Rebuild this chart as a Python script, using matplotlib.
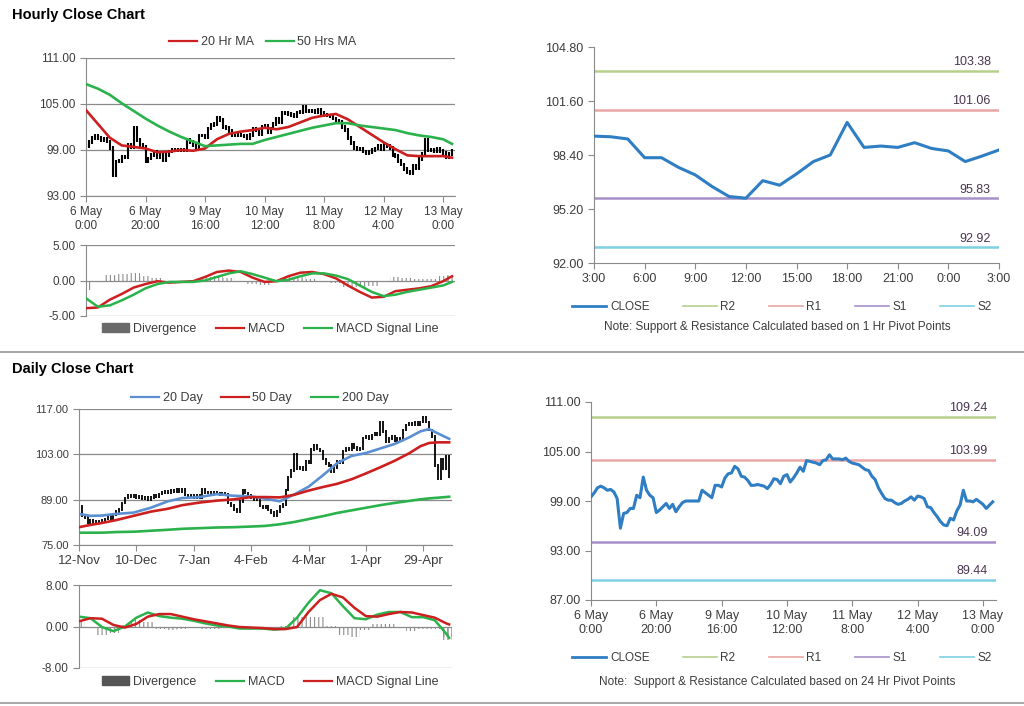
import numpy as np
import matplotlib.pyplot as plt
from matplotlib.lines import Line2D
from matplotlib.patches import Patch

plt.rcParams['font.family'] = ['Liberation Sans', 'DejaVu Sans']
plt.rcParams['hatch.linewidth'] = 0.8

# ---- hourly data (6 May 0:00 -> 13 May ~3:00), one value per hour bar
hourly_close = [
    99.5, 100.0, 100.6, 100.8, 100.6, 100.3, 100.4, 100.1, 99.3, 95.7,
    97.5, 97.6, 98.1, 98.1, 99.7, 99.4, 101.9, 100.3, 99.7, 99.4,
    97.6, 97.9, 98.3, 98.7, 98.1, 98.6, 97.7, 98.3, 98.8, 99.0,
    99.0, 99.0, 99.0, 99.0, 100.3, 100.0, 99.7, 99.4, 100.9, 100.9,
    100.7, 101.8, 102.3, 102.4, 103.2, 102.9, 102.0, 101.9, 101.5, 100.9,
    100.9, 101.0, 100.9, 100.8, 100.5, 101.0, 101.7, 101.6, 101.1, 102.0,
    102.2, 101.3, 101.8, 102.4, 103.1, 102.6, 103.9, 103.8, 103.7, 103.6,
    103.4, 103.9, 104.0, 104.6, 104.1, 104.1, 104.1, 104.0, 104.2, 103.8,
    103.6, 103.5, 103.4, 103.1, 102.8, 102.7, 102.0, 101.6, 100.6, 99.9,
    99.3, 99.1, 99.1, 98.8, 98.6, 98.7, 99.0, 99.2, 99.5, 99.1,
    99.6, 99.5, 99.3, 98.3, 98.2, 97.6, 97.1, 96.5, 96.1, 96.0,
    96.9, 96.7, 97.8, 98.5, 100.3, 99.0, 99.0, 98.9, 99.2, 98.9,
    98.6, 98.1, 98.5, 98.9,
]
hourly_ticklabels = ['6 May\n0:00', '6 May\n20:00', '9 May\n16:00', '10 May\n12:00',
                     '11 May\n8:00', '12 May\n4:00', '13 May\n0:00']

hourly_idx = list(range(0, 124, 4)) + [123]
ma20h = [104.2, 102.4, 100.6, 99.6, 99.4, 99.2, 98.7, 98.8, 99.0, 98.9,
         99.2, 100.4, 101.1, 101.4, 101.6, 101.9, 101.7, 102.0, 102.6, 103.2,
         103.5, 103.7, 103.0, 102.0, 101.0, 100.0, 99.1, 98.3, 98.2, 98.2,
         98.2, 98.0]
ma50h = [107.6, 107.0, 106.2, 105.1, 104.1, 103.1, 102.2, 101.4, 100.7, 100.1,
         99.5, 99.6, 99.7, 99.8, 99.8, 100.3, 100.7, 101.1, 101.5, 101.9,
         102.2, 102.5, 102.5, 102.2, 102.0, 101.8, 101.6, 101.2, 100.9, 100.7,
         100.4, 99.8]
macd_h = [-3.9, -3.8, -2.7, -1.9, -1.0, -0.5, -0.1, -0.3, -0.2, -0.1,
          0.5, 1.2, 1.4, 1.2, 0.4, -0.2, -0.1, 0.6, 1.1, 1.2,
          0.9, 0.3, -0.7, -1.6, -2.4, -2.3, -1.5, -1.3, -1.1, -0.8,
          -0.1, 0.6]
signal_h = [-2.5, -3.7, -3.5, -2.8, -2.0, -1.1, -0.5, -0.2, -0.2, -0.2,
            0.0, 0.5, 1.0, 1.3, 0.9, 0.4, -0.1, 0.1, 0.6, 1.0,
            1.0, 0.7, 0.2, -0.7, -1.6, -2.2, -2.0, -1.6, -1.3, -1.0,
            -0.7, -0.2]

# ---- last 24 hours close and pivots
pivot1_close = [99.52, 99.48, 99.35, 98.24, 98.24, 97.67, 97.22, 96.53, 95.94, 95.84,
                96.88, 96.61, 97.28, 98.01, 98.40, 100.33, 98.85, 98.93, 98.85, 99.13,
                98.79, 98.64, 98.01, 98.34, 98.70]
pivot1_ticklabels = ['3:00', '6:00', '9:00', '12:00', '15:00', '18:00', '21:00', '0:00', '3:00']
levels_1h = {'R2': 103.38, 'R1': 101.06, 'S1': 95.83, 'S2': 92.92}
levels_24h = {'R2': 109.24, 'R1': 103.99, 'S1': 94.09, 'S2': 89.44}

# ---- daily data (12-Nov -> mid May), one value per trading day
daily_close = [
    87.0, 84.0, 83.5, 82.0, 82.5, 81.5, 82.3, 81.8, 82.5, 83.0,
    83.8, 83.2, 84.5, 85.3, 86.0, 88.0, 89.5, 90.5, 89.8, 90.2,
    89.5, 89.9, 89.2, 89.8, 89.0, 89.6, 90.4, 90.0, 90.8, 91.2,
    91.6, 91.0, 92.0, 91.4, 92.2, 91.5, 92.3, 90.5, 89.8, 90.5,
    89.5, 90.2, 89.6, 92.3, 91.0, 91.4, 90.8, 91.3, 91.0, 90.5,
    91.0, 90.8, 88.0, 87.2, 86.0, 85.3, 88.5, 91.8, 91.0, 90.3,
    89.6, 89.0, 89.5, 87.0, 86.4, 86.8, 85.8, 85.0, 84.2, 85.3,
    86.8, 87.5, 92.0, 96.0, 98.0, 103.0, 98.5, 99.0, 98.3, 101.0,
    100.5, 104.5, 105.8, 104.6, 104.0, 101.5, 100.2, 99.5, 97.5, 99.0,
    101.0, 100.3, 104.0, 105.0, 104.5, 106.0, 105.2, 104.3, 104.8, 108.0,
    108.5, 107.8, 109.0, 109.5, 109.2, 113.0, 110.0, 107.0, 107.8, 108.5,
    107.2, 108.0, 107.5, 110.5, 112.0, 112.5, 112.0, 112.8, 112.3, 113.0,
    114.5, 113.0, 110.5, 108.5, 99.5, 95.5, 101.5, 98.5, 102.5, 96.0,
]
daily_ticklabels = ['12-Nov', '10-Dec', '7-Jan', '4-Feb', '4-Mar', '1-Apr', '29-Apr']

ma_days = [0, 4, 8, 13, 19, 25, 31, 36, 42, 48, 54, 60, 65, 70, 75, 80, 85, 90,
           95, 100, 105, 110, 115, 119, 122, 125, 129]
ma20d = [84.6, 84.0, 84.1, 84.6, 85.0, 86.5, 88.5, 89.5, 89.8, 90.7, 90.2, 90.0,
         89.3, 88.5, 90.6, 93.0, 96.5, 100.3, 102.5, 103.4, 104.8, 106.2, 108.2,
         110.1, 110.8, 109.5, 107.8]
ma50d = [80.5, 81.2, 81.8, 82.7, 84.0, 85.3, 86.2, 87.3, 88.1, 88.7, 89.1, 89.8,
         89.8, 89.7, 90.5, 91.8, 92.9, 93.9, 95.3, 97.1, 99.0, 101.0, 103.3,
         105.5, 106.5, 106.7, 106.7]
ma200d = [78.8, 78.8, 78.8, 79.0, 79.1, 79.4, 79.7, 80.0, 80.2, 80.4, 80.5, 80.7,
          80.9, 81.4, 82.1, 83.0, 83.9, 84.9, 85.7, 86.5, 87.3, 88.0, 88.6,
          89.1, 89.4, 89.6, 89.9]

macd_days = list(range(0, 129, 4)) + [129]
macd_d = [1.9, 1.6, -0.1, -0.9, 0.0, 1.7, 2.7, 2.0, 1.7, 1.5, 1.1, 0.6, 0.2, 0.0,
          -0.4, -0.4, -0.4, -0.6, -0.4, 1.7, 4.6, 7.0, 6.4, 3.9, 1.6, 1.4, 2.3,
          2.8, 2.8, 1.8, 1.8, 1.2, -1.4, -2.2]
signal_d = [1.0, 1.6, 1.5, 0.3, -0.2, 0.5, 1.9, 2.4, 2.4, 1.9, 1.4, 1.0, 0.6, 0.2,
            -0.1, -0.2, -0.3, -0.5, -0.5, -0.1, 2.8, 5.1, 6.3, 5.6, 3.6, 2.0, 1.9,
            2.4, 2.8, 2.7, 2.2, 1.7, 0.6, 0.4]

# ---- styling
W, H = 1024, 706
AXC = '#8a8a8a'
TXT = '#3c3c3c'
LVL_TXT = '#4a3550'
RED = '#cc1f1f'
GREEN = '#2bb24c'
BLUE = '#5b8fd1'
CLOSE_C = '#2f7ec3'
LEVEL_C = {'R2': '#b6d08c', 'R1': '#eaa5a5', 'S1': '#a690c8', 'S2': '#7fd0e2'}

fig = plt.figure(figsize=(10.24, 7.06), dpi=100)


def add_ax(l, t, r, b):
    return fig.add_axes([l / W, 1 - b / H, (r - l) / W, (b - t) / H])


def base_style(ax, grid=True, bottom=True, fs=8.5):
    for s in ['top', 'right']:
        ax.spines[s].set_visible(False)
    ax.spines['left'].set_color(AXC)
    ax.spines['bottom'].set_color(AXC)
    ax.spines['bottom'].set_visible(bottom)
    ax.tick_params(colors=AXC, labelcolor=TXT, labelsize=fs, length=4, width=0.8)
    if grid:
        ax.yaxis.grid(True, color=AXC, lw=0.9)
        ax.set_axisbelow(True)
    ax.yaxis.set_major_formatter(plt.FormatStrFormatter('%.2f'))


def price_bars(ax, closes, pad, lw):
    c = np.asarray(closes)
    o = np.r_[c[0], c[:-1]]
    x = np.arange(len(c))
    ax.vlines(x, np.minimum(o, c) - pad, np.maximum(o, c) + pad, color='black', lw=lw, zorder=2)


def macd_panel(ax, x, macd, sig, lim, macd_c, sig_c, xmax, bw):
    div = np.asarray(macd) - np.asarray(sig)
    ax.bar(x, div, width=bw, fill=False, hatch='||||', edgecolor='#8c8c8c', lw=0, zorder=2)
    ax.plot(x, macd, color=macd_c, lw=1.8, zorder=3)
    ax.plot(x, sig, color=sig_c, lw=1.8, zorder=3)
    ax.set_ylim(-lim, lim)
    ax.set_yticks([-lim, 0, lim])
    ax.set_xlim(0, xmax)
    ax.set_xticks([])
    base_style(ax, bottom=False)


def legend(handles, labels, cx, cy, fs=9, cs=1.6, hl=2.2):
    fig.legend(handles, labels, loc='center', bbox_to_anchor=(cx / W, 1 - cy / H),
               ncol=len(labels), frameon=False, fontsize=fs, handlelength=hl,
               columnspacing=cs, handletextpad=0.3, labelcolor=TXT)


def pivot_panel(ax, x, closes, levels, ylim, yticks, xticks, xlabels, xmax):
    for k, v in levels.items():
        ax.axhline(v, color=LEVEL_C[k], lw=1.8, zorder=1)
        ax.annotate('%.2f' % v, xy=(1, v), xycoords=ax.get_yaxis_transform(),
                    xytext=(-6, 2), textcoords='offset points', ha='right', va='bottom',
                    fontsize=9, color=LVL_TXT)
    ax.plot(x, closes, color=CLOSE_C, lw=2.2, zorder=3)
    ax.set_ylim(*ylim)
    ax.set_yticks(yticks)
    ax.set_xlim(0, xmax)
    ax.set_xticks(xticks)
    ax.set_xticklabels(xlabels)
    base_style(ax, grid=False, fs=9)


# ---- Hourly close chart (top-left)
ax1 = add_ax(86, 58, 455, 196)
price_bars(ax1, hourly_close, 0.25, 1.5)
ax1.plot(hourly_idx, ma20h, color=RED, lw=1.9, zorder=3)
ax1.plot(hourly_idx, ma50h, color=GREEN, lw=1.9, zorder=3)
ax1.set_ylim(93, 111)
ax1.set_yticks([93, 99, 105, 111])
ax1.set_xlim(0, 124)
ax1.set_xticks(range(0, 121, 20))
ax1.set_xticklabels(hourly_ticklabels)
base_style(ax1)
legend([Line2D([], [], color=RED, lw=1.6), Line2D([], [], color=GREEN, lw=1.6)],
       ['20 Hr MA', '50 Hrs MA'], 263, 42, cs=1.0)

ax2 = add_ax(86, 245, 455, 316)
macd_panel(ax2, hourly_idx, macd_h, signal_h, 5, RED, GREEN, 124, 4.0)
legend([Patch(color='#6a6a6a'), Line2D([], [], color=RED, lw=1.6), Line2D([], [], color=GREEN, lw=1.6)],
       ['Divergence', 'MACD', 'MACD Signal Line'], 270, 329)

# ---- 1 Hr pivot chart (top-right)
ax3 = add_ax(594, 47, 999, 263)
pivot_panel(ax3, range(len(pivot1_close)), pivot1_close, levels_1h, (92, 104.8),
            [92.0, 95.2, 98.4, 101.6, 104.8], range(0, 25, 3), pivot1_ticklabels, 24)
lvl_handles = [Line2D([], [], color=CLOSE_C, lw=2)] + \
              [Line2D([], [], color=LEVEL_C[k], lw=1.2) for k in levels_1h]
legend(lvl_handles, ['CLOSE', 'R2', 'R1', 'S1', 'S2'], 782, 307, fs=8.5, cs=2.8, hl=2.9)
fig.text(777 / W, 1 - 327 / H, 'Note: Support & Resistance Calculated based on 1 Hr Pivot Points',
         ha='center', va='center', fontsize=8.5, color=TXT)

# ---- Daily close chart (bottom-left)
ax4 = add_ax(79, 409, 452, 545)
price_bars(ax4, daily_close, 0.4, 1.3)
ax4.plot(ma_days, ma20d, color=BLUE, lw=1.9, zorder=3)
ax4.plot(ma_days, ma50d, color=RED, lw=1.9, zorder=3)
ax4.plot(ma_days, ma200d, color=GREEN, lw=1.9, zorder=3)
ax4.set_ylim(75, 117)
ax4.set_yticks([75, 89, 103, 117])
ax4.set_xlim(0, 130)
ax4.set_xticks(range(0, 121, 20))
ax4.set_xticklabels(daily_ticklabels)
base_style(ax4)
ax4.tick_params(axis='y', labelsize=8)
ax4.tick_params(axis='x', labelsize=9.5)
legend([Line2D([], [], color=c, lw=1.6) for c in (BLUE, RED, GREEN)],
       ['20 Day', '50 Day', '200 Day'], 260, 398, cs=1.5)

ax5 = add_ax(79, 585, 452, 668)
macd_panel(ax5, macd_days, macd_d, signal_d, 8, GREEN, RED, 130, 4.0)
legend([Patch(color='#555555'), Line2D([], [], color=GREEN, lw=1.6), Line2D([], [], color=RED, lw=1.6)],
       ['Divergence', 'MACD', 'MACD Signal Line'], 270, 682)

# ---- 24 Hr pivot chart (bottom-right)
ax6 = add_ax(591, 402, 996, 600)
pivot_panel(ax6, range(len(hourly_close)), hourly_close, levels_24h, (87, 111),
            [87, 93, 99, 105, 111], range(0, 121, 20), hourly_ticklabels, 124)
legend(lvl_handles, ['CLOSE', 'R2', 'R1', 'S1', 'S2'], 782, 658, fs=8.5, cs=2.8, hl=2.9)
fig.text(777 / W, 1 - 682 / H, 'Note:  Support & Resistance Calculated based on 24 Hr Pivot Points',
         ha='center', va='center', fontsize=8.5, color=TXT)

# ---- section titles and separators
fig.text(12 / W, 1 - 15 / H, 'Hourly Close Chart', fontsize=10.5, fontweight='bold', va='center')
fig.text(12 / W, 1 - 369 / H, 'Daily Close Chart', fontsize=10.5, fontweight='bold', va='center')
fig.add_artist(Line2D([0, 1], [1 - 352 / H] * 2, color='#9a9a9a', lw=1.2))
fig.add_artist(Line2D([0, 1], [1 - 703 / H] * 2, color='#9a9a9a', lw=1.2))

fig.savefig('out.png', dpi=100, facecolor='white')
